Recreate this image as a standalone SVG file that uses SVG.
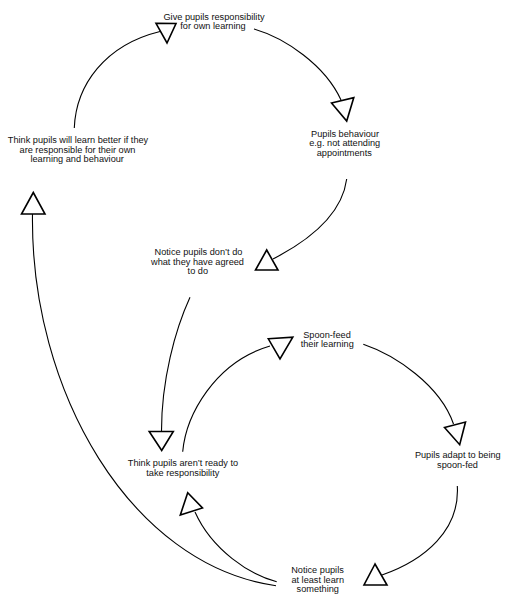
<svg xmlns="http://www.w3.org/2000/svg" width="512" height="610" viewBox="0 0 512 610">
<style>
.bg{fill:#ffffff}
.lbl{font-family:"Liberation Sans",Arial,sans-serif;font-size:9.2px;fill:#111111;text-anchor:middle}
.edge{fill:none;stroke:#000000;stroke-width:1.1}
.head{fill:#ffffff;stroke:#000000;stroke-width:1.6;stroke-linejoin:miter}
</style>
<rect class="bg" x="0" y="0" width="512" height="610"/>
<g id="connectors">
  <path class="edge" d="M74.3,128 C76,85 105,45 160,31.5"/>
  <polygon class="head" points="156,23.3 176,23.5 167,43"/>
  <path class="edge" d="M254,29 C285,38 325,65 341,100"/>
  <polygon class="head" points="331.5,103 353.8,97.6 346.7,121"/>
  <path class="edge" d="M346.7,179 C342,215 310,240 273,259"/>
  <polygon class="head" points="266.7,250 255.5,270 278,270"/>
  <path class="edge" d="M190,297.3 C175,330 161.5,380 161.5,431"/>
  <polygon class="head" points="149.2,431.5 173.3,431.5 161.7,450.5"/>
  <path class="edge" d="M182.7,451.7 C186,415 215,362 270,346"/>
  <polygon class="head" points="268.3,338.8 292.8,337.2 280,359"/>
  <path class="edge" d="M363.3,344.3 C395,355 440,385 453.5,424"/>
  <polygon class="head" points="444.5,427.5 465.5,422 459.7,444.7"/>
  <path class="edge" d="M457.3,486 C460,530 425,560 382,575"/>
  <polygon class="head" points="375,564 364,585 387,585"/>
  <path class="edge" d="M276.7,581.7 C250,575 212,550 195,512"/>
  <polygon class="head" points="187.7,492.7 180.3,515 202.5,508"/>
  <path class="edge" d="M276,585.7 C130,565 30,390 32.5,214"/>
  <polygon class="head" points="33.3,192.5 21.5,214 45,214"/>
</g>
<g id="n1"><text class="lbl" x="214" y="19.6">Give pupils responsibility</text><text class="lbl" x="213" y="29.2">for own learning</text></g>
<g id="n2"><text class="lbl" x="345" y="136.7">Pupils behaviour</text><text class="lbl" x="344.7" y="146.3">e.g. not attending</text><text class="lbl" x="344.3" y="155.9">appointments</text></g>
<g id="n3"><text class="lbl" x="198.5" y="255">Notice pupils don’t do</text><text class="lbl" x="197.5" y="264.6">what they have agreed</text><text class="lbl" x="197.8" y="274.2">to do</text></g>
<g id="n4"><text class="lbl" x="78" y="143.3">Think pupils will learn better if they</text><text class="lbl" x="77.5" y="152.8">are responsible for their own</text><text class="lbl" x="77.2" y="162.3">learning and behaviour</text></g>
<g id="n5"><text class="lbl" x="183" y="466">Think pupils aren’t ready to</text><text class="lbl" x="182.8" y="475.6">take responsibility</text></g>
<g id="n6"><text class="lbl" x="327" y="337.7">Spoon-feed</text><text class="lbl" x="327.2" y="347.3">their learning</text></g>
<g id="n7"><text class="lbl" x="457.8" y="458.3">Pupils adapt to being</text><text class="lbl" x="457.5" y="467.8">spoon-fed</text></g>
<g id="n8"><text class="lbl" x="317.5" y="573">Notice pupils</text><text class="lbl" x="317.7" y="582.6">at least learn</text><text class="lbl" x="317.8" y="592.2">something</text></g>
</svg>
